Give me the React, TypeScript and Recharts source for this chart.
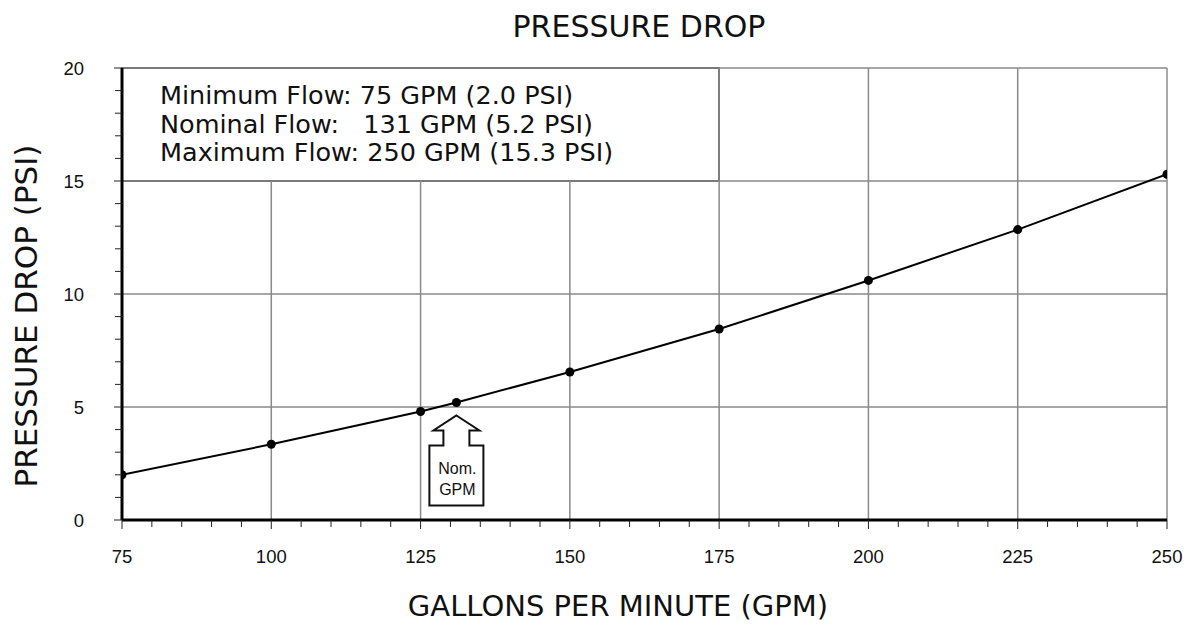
import React from 'react';
import { LineChart, Line, XAxis, YAxis, ReferenceArea, ReferenceDot, ReferenceLine } from 'recharts';

const gpm = [75, 100, 125, 131, 150, 175, 200, 225, 250];
const psi = [2.0, 3.35, 4.8, 5.2, 6.55, 8.45, 10.6, 12.85, 15.3];
const xMajorTicks = [75, 100, 125, 150, 175, 200, 225, 250];
const yMajorTicks = [0, 5, 10, 15, 20];
const xMinorTicks = [75, 80, 85, 90, 95, 100, 105, 110, 115, 120, 125, 130, 135, 140, 145, 150, 155, 160, 165, 170, 175, 180, 185, 190, 195, 200, 205, 210, 215, 220, 225, 230, 235, 240, 245, 250];
const yMinorTicks = [0, 1, 2, 3, 4, 5, 6, 7, 8, 9, 10, 11, 12, 13, 14, 15, 16, 17, 18, 19, 20];
const legendLines = [
  'Minimum Flow: 75 GPM (2.0 PSI)',
  'Nominal Flow:   131 GPM (5.2 PSI)',
  'Maximum Flow: 250 GPM (15.3 PSI)',
];
const legendBox = { x1: 75, x2: 175, y1: 15, y2: 20 };
const nominal = { gpm: 131, psi: 5.2, label1: 'Nom.', label2: 'GPM' };
const title = 'PRESSURE DROP';
const xTitle = 'GALLONS PER MINUTE (GPM)';
const yTitle = 'PRESSURE DROP (PSI)';

const data = gpm.map((g, i) => ({ gpm: g, psi: psi[i] }));

const TICK_FONT = '"Liberation Sans", Arial, sans-serif';
const MAIN_FONT = '"DejaVu Sans", "Open Sans", sans-serif';
const GRID = '#8a8a8a';

const XTick = (props: any) => {
  const { x, y, payload } = props;
  const v = payload.value;
  const major = xMajorTicks.includes(v);
  return (
    <g>
      <line x1={x} x2={x} y1={y} y2={y + (major ? 9 : 7)} stroke="#222" strokeWidth={1} />
      {major && (
        <text x={x} y={y + 36} textAnchor="middle" dominantBaseline="central" fontFamily={TICK_FONT} fontSize={18.5} fill="#111">
          {v}
        </text>
      )}
    </g>
  );
};

const YTick = (props: any) => {
  const { x, y, payload } = props;
  const v = payload.value;
  const major = yMajorTicks.includes(v);
  return (
    <g>
      <line x1={x} x2={x - (major ? 8 : 7)} y1={y} y2={y} stroke="#222" strokeWidth={1} />
      {major && (
        <text x={x - 38} y={y} textAnchor="end" dominantBaseline="central" fontFamily={TICK_FONT} fontSize={18.5} fill="#111">
          {v}
        </text>
      )}
    </g>
  );
};

const ArrowShape = (props: any) => {
  const { cx, cy } = props;
  const t = cy + 13;
  const hb = cy + 28;
  const sb = cy + 43;
  const bb = cy + 103;
  const d = `M ${cx} ${t} L ${cx + 23} ${hb} L ${cx + 13} ${hb} L ${cx + 13} ${sb} L ${cx + 27} ${sb} L ${cx + 27} ${bb} L ${cx - 27} ${bb} L ${cx - 27} ${sb} L ${cx - 13} ${sb} L ${cx - 13} ${hb} L ${cx - 23} ${hb} Z`;
  return (
    <g>
      <path d={d} fill="#fff" stroke="#111" strokeWidth={2} />
      <text x={cx + 1} y={cy + 66} textAnchor="middle" dominantBaseline="central" fontFamily={TICK_FONT} fontSize={16} fill="#111">{nominal.label1}</text>
      <text x={cx + 1} y={cy + 87} textAnchor="middle" dominantBaseline="central" fontFamily={TICK_FONT} fontSize={16} fill="#111">{nominal.label2}</text>
    </g>
  );
};

export default function App() {
  return (
    <div style={{ position: 'absolute', left: 0, top: 0, width: 1190, height: 627, background: '#fff' }}>
      <LineChart width={1190} height={627} data={data} margin={{ top: 68, right: 23, bottom: 47, left: 0 }}>
        {xMajorTicks.map((v) => {
          const inBox = v > legendBox.x1 && v < legendBox.x2;
          return inBox ? (
            <ReferenceLine key={'vx' + v} segment={[{ x: v, y: 0 }, { x: v, y: legendBox.y1 }]} stroke={GRID} strokeWidth={1.5} ifOverflow="visible" />
          ) : (
            <ReferenceLine key={'vx' + v} x={v} stroke={GRID} strokeWidth={1.5} ifOverflow="visible" />
          );
        })}
        {yMajorTicks.map((v) => (
          <ReferenceLine key={'hy' + v} y={v} stroke={GRID} strokeWidth={1.5} ifOverflow="visible" />
        ))}
        <ReferenceArea x1={legendBox.x1} x2={legendBox.x2} y1={legendBox.y1} y2={legendBox.y2} fill="#fff" fillOpacity={0} stroke="#111" strokeWidth={1.5} ifOverflow="visible" />
        <XAxis
          dataKey="gpm"
          type="number"
          domain={[75, 250]}
          ticks={xMinorTicks}
          interval={0}
          height={60}
          tickSize={0}
          tickMargin={0}
          tickLine={false}
          tick={<XTick />}
          axisLine={{ stroke: '#000', strokeWidth: 3 }}
          allowDataOverflow
        />
        <YAxis
          type="number"
          domain={[0, 20]}
          ticks={yMinorTicks}
          interval={0}
          width={122}
          tickSize={0}
          tickMargin={0}
          tickLine={false}
          tick={<YTick />}
          axisLine={{ stroke: '#000', strokeWidth: 3 }}
          allowDataOverflow
        />
        <Line
          type="linear"
          dataKey="psi"
          stroke="#000"
          strokeWidth={2}
          dot={{ r: 4.5, fill: '#000', stroke: '#000', strokeWidth: 0 }}
          isAnimationActive={false}
        />
        <ReferenceDot x={nominal.gpm} y={nominal.psi} shape={<ArrowShape />} ifOverflow="visible" />
      </LineChart>
      <svg width={1190} height={627} style={{ position: 'absolute', left: 0, top: 0, pointerEvents: 'none' }}>
        <text x={639} y={26} textAnchor="middle" dominantBaseline="central" fontFamily={MAIN_FONT} fontSize={30} fill="#111">{title}</text>
        <text x={618} y={606} textAnchor="middle" dominantBaseline="central" fontFamily={MAIN_FONT} fontSize={29} fill="#111">{xTitle}</text>
        <text x={0} y={0} transform="translate(26,316) rotate(-90)" textAnchor="middle" dominantBaseline="central" fontFamily={MAIN_FONT} fontSize={31} fill="#111">{yTitle}</text>
        {legendLines.map((s, i) => (
          <text key={i} x={160} y={95 + i * 28.5} dominantBaseline="central" fontFamily={MAIN_FONT} fontSize={25.5} fill="#111" style={{ whiteSpace: 'pre' }}>{s}</text>
        ))}
      </svg>
    </div>
  );
}
